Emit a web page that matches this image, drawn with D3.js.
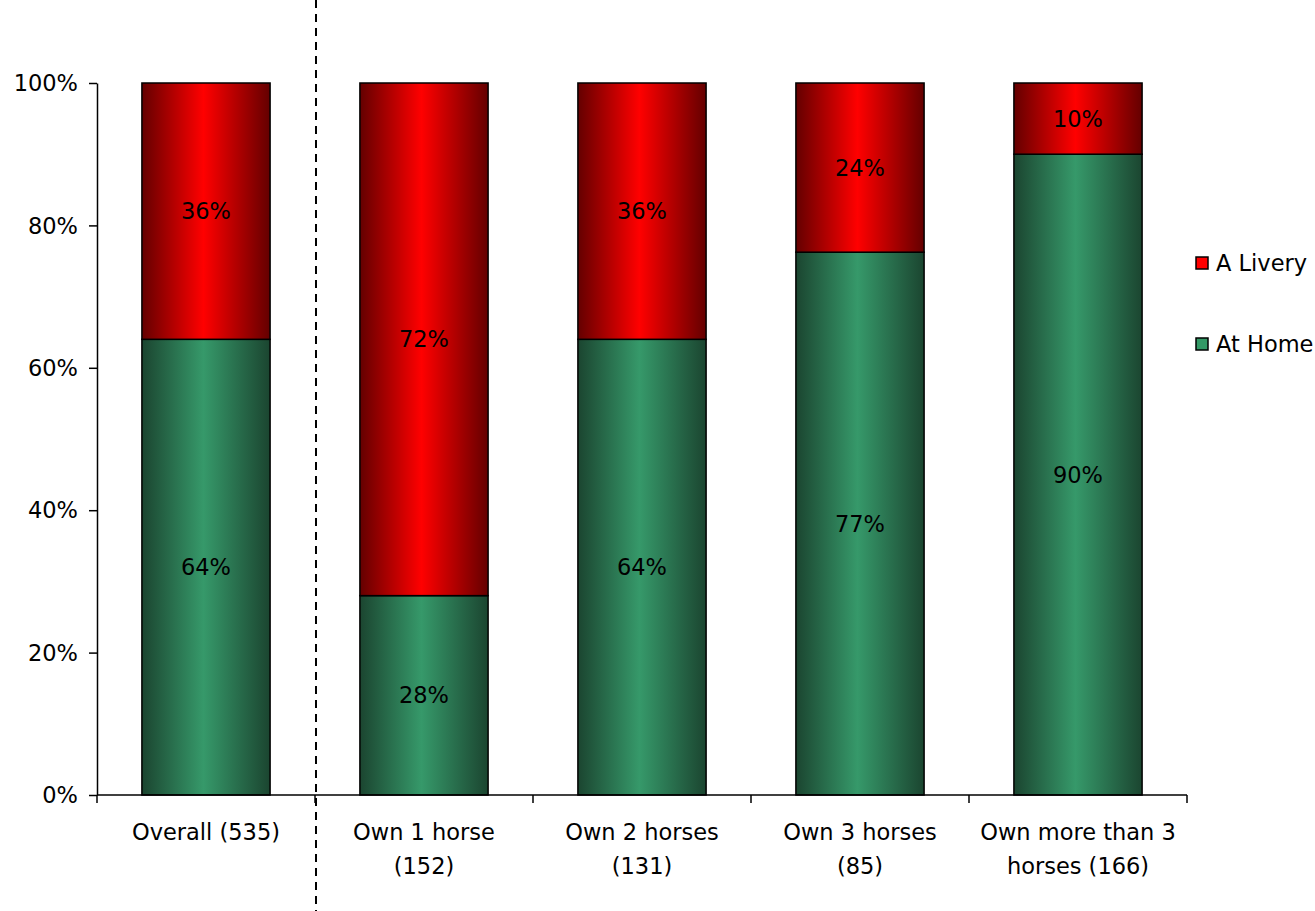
<!DOCTYPE html>
<html><head><meta charset="utf-8">
<script src="https://cdn.jsdelivr.net/npm/d3@7/dist/d3.min.js"></script>
<style>body{margin:0;background:#fff}svg{display:block;font-family:"DejaVu Sans",Verdana,sans-serif}</style>
</head><body><svg id="c" width="1315" height="911"></svg>
<script>
const categories = [["Overall (535)"],["Own 1 horse","(152)"],["Own 2 horses","(131)"],["Own 3 horses","(85)"],["Own more than 3","horses (166)"]];
const atHome = [64, 28, 64, 77, 90];
const aLivery = [36, 72, 36, 24, 10];
const yTicks = [0, 20, 40, 60, 80, 100];
const seriesNames = ["A Livery", "At Home"];

const FS = 22.5;
const svg = d3.select("#c");
const m = {l:97, r:1187, t:83, b:795};
const x = d3.scaleBand().domain(d3.range(categories.length)).range([m.l, m.r]).paddingInner(0.412).paddingOuter(0.206);
const y = d3.scaleLinear().domain([0,100]).range([m.b, m.t]);

const defs = svg.append("defs");
function grad(id, dark, bright){
  const g = defs.append("linearGradient").attr("id", id).attr("x1","0").attr("x2","1").attr("y1","0").attr("y2","0");
  g.append("stop").attr("offset","0%").attr("stop-color",dark);
  g.append("stop").attr("offset","48%").attr("stop-color",bright);
  g.append("stop").attr("offset","100%").attr("stop-color",dark);
}
grad("gRed", "#640000", "#ff0000");
grad("gGreen", "#1b4530", "#36996a");

const data = categories.map((c,i)=>{
  const tot = atHome[i] + aLivery[i];
  return {i, home: atHome[i]/tot*100, liv: aLivery[i]/tot*100, hl: atHome[i], ll: aLivery[i]};
});

// bars
const g = svg.append("g");
data.forEach(d=>{
  const bx = x(d.i), bw = x.bandwidth();
  g.append("rect").attr("x",bx).attr("width",bw).attr("y",y(d.home)).attr("height",y(0)-y(d.home))
    .attr("fill","url(#gGreen)").attr("stroke","#000").attr("stroke-width",1.5);
  g.append("rect").attr("x",bx).attr("width",bw).attr("y",y(100)).attr("height",y(d.home)-y(100))
    .attr("fill","url(#gRed)").attr("stroke","#000").attr("stroke-width",1.5);
  g.append("text").attr("x",bx+bw/2).attr("y",(y(0)+y(d.home))/2).attr("dy","0.36em")
    .attr("text-anchor","middle").attr("font-size",FS).text(d.hl+"%");
  g.append("text").attr("x",bx+bw/2).attr("y",(y(100)+y(d.home))/2).attr("dy","0.36em")
    .attr("text-anchor","middle").attr("font-size",FS).text(d.ll+"%");
});

// y axis
const ya = svg.append("g").attr("transform",`translate(${m.l},0)`)
  .call(d3.axisLeft(y).tickValues(yTicks).tickFormat(d=>d+"%").tickSize(8).tickSizeOuter(0));
ya.select(".domain").attr("stroke","#000").attr("stroke-width",1.5);
ya.selectAll(".tick line").attr("stroke","#000").attr("stroke-width",1.5);
ya.selectAll(".tick text").attr("font-size",FS).attr("font-family","DejaVu Sans").attr("fill","#000").attr("x",-19).attr("dy","0.34em");

// x axis
const step = x.step();
const xa = svg.append("g");
xa.append("line").attr("x1",m.l).attr("x2",m.r).attr("y1",m.b).attr("y2",m.b).attr("stroke","#000").attr("stroke-width",1.5);
d3.range(categories.length+1).forEach(k=>{
  const tx = m.l + k*step;
  xa.append("line").attr("x1",tx).attr("x2",tx).attr("y1",m.b).attr("y2",m.b+8).attr("stroke","#000").attr("stroke-width",1.5);
});
categories.forEach((lines,i)=>{
  const cx = x(i)+x.bandwidth()/2;
  lines.forEach((t,j)=>{
    xa.append("text").attr("x",cx).attr("y",832+j*34).attr("dy","0.36em").attr("text-anchor","middle").attr("font-size",FS).text(t);
  });
});

// dashed separator
const sx = m.l + step + 1;
svg.append("line").attr("x1",sx).attr("x2",sx).attr("y1",0).attr("y2",911)
  .attr("stroke","#000").attr("stroke-width",2).attr("stroke-dasharray","8,6");

// legend
const legY = [263, 344];
const legFill = ["#ff0000", "#339966"];
seriesNames.forEach((n,k)=>{
  svg.append("rect").attr("x",1196).attr("y",legY[k]-6).attr("width",12).attr("height",12)
    .attr("fill",legFill[k]).attr("stroke","#000").attr("stroke-width",1.5);
  svg.append("text").attr("x",1216).attr("y",legY[k]).attr("dy","0.36em").attr("font-size",FS).text(n);
});
</script></body></html>
